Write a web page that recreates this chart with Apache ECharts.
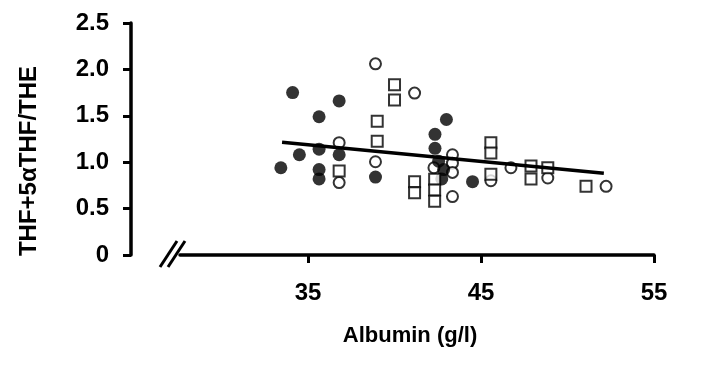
<!DOCTYPE html>
<html>
<head>
<meta charset="utf-8">
<script src="https://cdn.jsdelivr.net/npm/echarts@6/dist/echarts.min.js"></script>
<style>
  html, body { margin: 0; padding: 0; background: #fff; }
  #chart { width: 727px; height: 366px; }
</style>
</head>
<body>
<div id="chart"></div>
<script>
// filled circles
const filledX = [33.43, 34.11, 34.50, 35.64, 35.64, 35.64, 35.64, 36.80, 36.80, 38.90, 43.00, 42.34, 42.34, 42.55, 42.84, 42.73, 44.51];
const filledY = [0.94, 1.75, 1.08, 1.49, 1.14, 0.92, 0.82, 1.66, 1.08, 0.84, 1.46, 1.30, 1.15, 1.01, 0.92, 0.82, 0.79];
// open circles
const openX = [38.90, 41.16, 36.80, 36.80, 38.90, 43.35, 43.35, 42.28, 43.35, 43.35, 45.57, 46.73, 48.86, 52.23];
const openY = [2.06, 1.745, 1.21, 0.78, 1.005, 1.08, 0.99, 0.94, 0.89, 0.63, 0.80, 0.94, 0.83, 0.74];
// open squares
const squareX = [40.00, 40.00, 39.00, 39.00, 36.80, 41.16, 41.16, 42.32, 42.32, 42.32, 45.57, 45.57, 45.57, 47.89, 47.89, 48.86, 51.07];
const squareY = [1.835, 1.67, 1.44, 1.225, 0.905, 0.79, 0.67, 0.815, 0.70, 0.58, 1.21, 1.10, 0.87, 0.96, 0.82, 0.94, 0.74];
// regression line end points
const fitX = [33.5, 52.1];
const fitY = [1.216, 0.88];

const xTicks = [35, 45, 55];

function pairs(xs, ys) {
  return xs.map((x, i) => [x, ys[i]]);
}

const chart = echarts.init(document.getElementById('chart'));
const font = '"Liberation Sans", Arial, sans-serif';

chart.setOption({
  animation: false,
  grid: { left: 180, right: 73, top: 23, bottom: 111 },
  xAxis: {
    type: 'value',
    min: 27.6,
    max: 55,
    name: 'Albumin (g/l)',
    nameLocation: 'middle',
    nameGap: 70,
    nameTextStyle: { color: '#000', fontSize: 22, fontWeight: 'bold', fontFamily: font, padding: [0, 14, 0, 0] },
    axisLine: { lineStyle: { color: '#000', width: 3.5 } },
    axisTick: { show: true, customValues: xTicks, length: 8, lineStyle: { color: '#000', width: 3 } },
    axisLabel: { customValues: xTicks, margin: 26, color: '#000', fontSize: 24, fontWeight: 'bold', fontFamily: font },
    splitLine: { show: false }
  },
  yAxis: {
    type: 'value',
    min: 0,
    max: 2.5,
    interval: 0.5,
    offset: 49,
    name: 'THF+5αTHF/THE',
    nameLocation: 'middle',
    nameGap: 90,
    nameRotate: 90,
    nameTextStyle: { color: '#000', fontSize: 24, fontWeight: 'bold', fontFamily: font, padding: [0, 44, 0, 0] },
    axisLine: { show: true, lineStyle: { color: '#000', width: 3.5 } },
    axisTick: { show: true, length: 8, lineStyle: { color: '#000', width: 3 } },
    axisLabel: {
      margin: 22, color: '#000', fontSize: 24, fontWeight: 'bold', fontFamily: font,
      formatter: v => (v === 0 ? '0' : v.toFixed(1))
    },
    splitLine: { show: false }
  },
  series: [
    {
      type: 'scatter', data: pairs(openX, openY), symbol: 'circle', symbolSize: 11, z: 2,
      itemStyle: { color: '#fff', borderColor: '#000', borderWidth: 2 }
    },
    {
      type: 'scatter', data: pairs(filledX, filledY), symbol: 'circle', symbolSize: 13, z: 3,
      itemStyle: { color: '#000' }
    },
    {
      type: 'scatter', data: pairs(squareX, squareY), symbol: 'rect', symbolSize: 11, z: 4,
      itemStyle: { color: '#fff', borderColor: '#000', borderWidth: 2 }
    },
    {
      type: 'line', data: pairs(fitX, fitY), symbol: 'none', z: 5,
      lineStyle: { color: '#000', width: 3.5 }
    }
  ]
});

// axis break marks at the start of the x axis
const p0 = chart.convertToPixel({ gridIndex: 0 }, [27.6, 0]);
const brk = [];
[-20, -12].forEach(dx => {
  brk.push({
    type: 'line',
    shape: { x1: p0[0] + dx, y1: p0[1] + 12, x2: p0[0] + dx + 17, y2: p0[1] - 14 },
    style: { stroke: '#000', lineWidth: 3 }
  });
});
chart.setOption({ graphic: brk });
</script>
</body>
</html>
